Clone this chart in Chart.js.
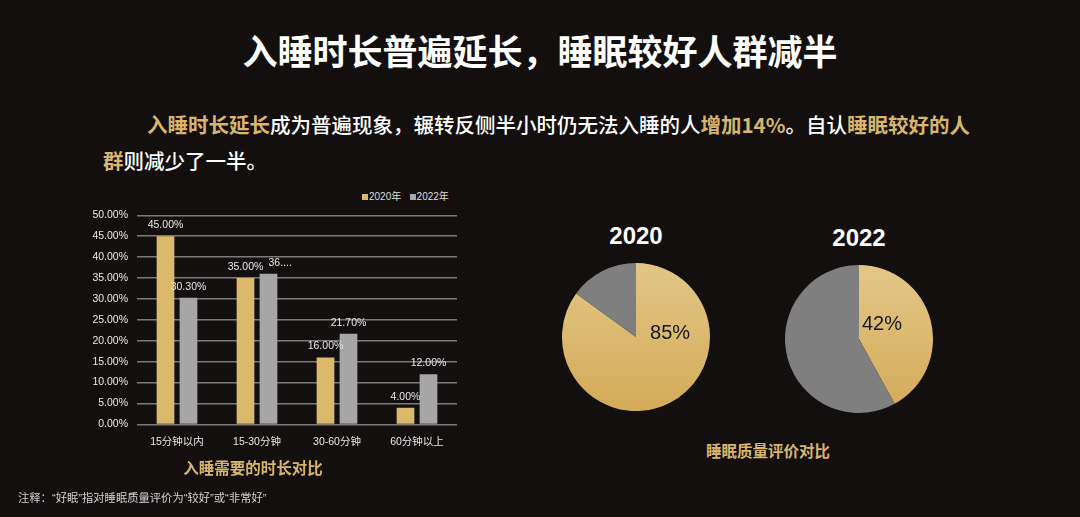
<!DOCTYPE html>
<html>
<head>
<meta charset="utf-8">
<script src="https://cdn.jsdelivr.net/npm/chart.js@4.4.1/dist/chart.umd.min.js"></script>
<style>
  html, body { margin: 0; padding: 0; }
  body {
    width: 1080px; height: 517px; overflow: hidden; position: relative;
    background: #120f0e;
    font-family: "Noto Sans CJK SC", "Liberation Sans", sans-serif;
    color: #fff;
  }
  .abs { position: absolute; }
  #titulo {
    left: 0; width: 1080px; top: 28px; text-align: center;
    font-size: 35px; font-weight: 700; line-height: 44px;
  }
  #texto {
    left: 103px; top: 106px; width: 900px;
    font-size: 20.5px; line-height: 36px; font-weight: 500;
  }
  #texto .gold { color: #d9b56b; font-weight: 700; }
  #texto .indent { display: inline-block; width: 44px; }
  #leyenda {
    left: 362px; top: 190px; font-size: 10px; line-height: 14px; color: #ddd;
    font-family: "Liberation Sans", "Noto Sans CJK SC", sans-serif;
  }
  #leyenda span.box { display: inline-block; width: 6px; height: 6px; margin-right: 1px; }
  .cap { color: #d9b56b; font-weight: 700; font-size: 15.5px; line-height: 20px; text-align: center; }
  .anio {
    font-family: "Liberation Sans", Arial, sans-serif; font-weight: 700; font-size: 24px;
    line-height: 28px; text-align: center; width: 120px;
  }
  #nota {
    left: 18px; top: 490px; font-size: 11.3px; line-height: 16px; color: #d0d0d0;
    font-family: "Liberation Sans", "Noto Sans CJK SC", sans-serif;
  }
</style>
</head>
<body>
<div id="titulo" class="abs">入睡时长普遍延长，睡眠较好人群减半</div>
<div id="texto" class="abs"><span class="indent"></span><span class="gold">入睡时长延长</span>成为普遍现象，辗转反侧半小时仍无法入睡的人<span class="gold">增加14%</span>。自认<span class="gold">睡眠较好的人</span><br><span class="gold">群</span>则减少了一半。</div>

<div id="leyenda" class="abs"></div>
<canvas id="barras" class="abs" style="left:0;top:200px;width:470px;height:261px" width="470" height="261"></canvas>
<div class="abs cap" style="left:153px;top:457px;width:200px">入睡需要的时长对比</div>

<div class="abs anio" style="left:576px;top:222px">2020</div>
<div class="abs anio" style="left:799px;top:224px">2022</div>
<canvas id="pie2020" class="abs" style="left:562px;top:263px;width:148px;height:148px" width="148" height="148"></canvas>
<canvas id="pie2022" class="abs" style="left:785px;top:265px;width:148px;height:148px" width="148" height="148"></canvas>
<div class="abs cap" style="left:668px;top:440px;width:200px">睡眠质量评价对比</div>

<div id="nota" class="abs">注释：“好眠”指对睡眠质量评价为“较好”或“非常好”</div>

<script>
// -------- DATOS --------
const categorias = ["15分钟以内", "15-30分钟", "30-60分钟", "60分钟以上"];
const series = ["2020年", "2022年"];
const valores2020 = [45, 35, 16, 4];
const valores2022 = [30.3, 36, 21.7, 12];
const etiquetas2020 = ["45.00%", "35.00%", "16.00%", "4.00%"];
const etiquetas2022 = ["30.30%", "36....", "21.70%", "12.00%"];
const ejeY = { min: 0, max: 50, paso: 5 };

const pieAnios = ["2020", "2022"];
const pie2020 = [85, 15];
const pie2022 = [42, 58];
const pieEtiquetas = ["85%", "42%"];

const ORO = "#dbb96b";
const GRIS = "#a6a6a6";
const GRIS_PIE = "#7f7f7f";
const FUENTE = '"Liberation Sans", "Noto Sans CJK SC", sans-serif';

// leyenda
document.getElementById("leyenda").innerHTML = series
  .map((s, i) => `<span class="box" style="background:${i ? GRIS : ORO}"></span>${s}`)
  .join('&nbsp;&nbsp;&nbsp;');

// -------- ETIQUETAS DE BARRAS --------
const etiquetasBarras = {
  id: "etiquetasBarras",
  afterDatasetsDraw(chart) {
    const ctx = chart.ctx;
    ctx.save();
    ctx.font = "10.5px " + FUENTE;
    ctx.fillStyle = "#e8e8e8";
    ctx.textBaseline = "middle";
    chart.data.datasets.forEach((ds, i) => {
      chart.getDatasetMeta(i).data.forEach((bar, j) => {
        const txt = ds.etiquetas[j];
        // la etiqueta recortada empieza en el centro de la barra
        ctx.textAlign = txt.endsWith("....") ? "left" : "center";
        ctx.fillText(txt, bar.x, bar.y - 11);
      });
    });
    ctx.restore();
  },
};

new Chart(document.getElementById("barras"), {
  type: "bar",
  data: {
    labels: categorias,
    datasets: [
      { label: series[0], data: valores2020, etiquetas: etiquetas2020, backgroundColor: ORO },
      { label: series[1], data: valores2022, etiquetas: etiquetas2022, backgroundColor: GRIS },
    ],
  },
  options: {
    responsive: false,
    animation: false,
    layout: { padding: { top: 4, right: 13, bottom: 2, left: 0 } },
    categoryPercentage: 0.575,
    barPercentage: 0.77,
    plugins: { legend: { display: false }, tooltip: { enabled: false } },
    scales: {
      x: {
        grid: { display: false, drawTicks: false },
        border: { display: false },
        ticks: { color: "#e8e8e8", font: { family: FUENTE, size: 10.5 }, padding: 11 },
      },
      y: {
        min: ejeY.min,
        max: ejeY.max,
        afterFit: (scale) => { scale.width = 137; },
        grid: { color: "#7a7a7a", lineWidth: 1.5, drawTicks: false },
        border: { display: false },
        ticks: {
          stepSize: ejeY.paso,
          padding: 9,
          color: "#e8e8e8",
          font: { family: FUENTE, size: 10.5 },
          callback: (v) => v.toFixed(2) + "%",
        },
      },
    },
  },
  plugins: [etiquetasBarras],
});

// -------- PASTELES --------
// primer sector en degradado dorado, el resto gris
function colorSector(context) {
  if (context.dataIndex !== 0) return GRIS_PIE;
  const area = context.chart.chartArea;
  if (!area) return ORO;
  const g = context.chart.ctx.createLinearGradient(0, area.top, 0, area.bottom);
  g.addColorStop(0, "#e3c687");
  g.addColorStop(1, "#d3ab58");
  return g;
}

// posicion del texto relativa al radio
const posEtiqueta = [[0.46, -0.05], [0.31, -0.19]];

function etiquetaPie(idx) {
  return {
    id: "etiquetaPie" + idx,
    afterDatasetsDraw(chart) {
      const arc = chart.getDatasetMeta(0).data[0];
      const ctx = chart.ctx;
      ctx.save();
      ctx.font = "20px " + FUENTE;
      ctx.fillStyle = "#161616";
      ctx.textAlign = "center";
      ctx.textBaseline = "middle";
      ctx.fillText(
        pieEtiquetas[idx],
        arc.x + arc.outerRadius * posEtiqueta[idx][0],
        arc.y + arc.outerRadius * posEtiqueta[idx][1]
      );
      ctx.restore();
    },
  };
}

[pie2020, pie2022].forEach((datos, i) => {
  new Chart(document.getElementById("pie" + pieAnios[i]), {
    type: "pie",
    data: {
      labels: ["较好", "其他"],
      datasets: [{ data: datos, backgroundColor: colorSector, borderWidth: 0 }],
    },
    options: {
      responsive: false,
      animation: false,
      plugins: { legend: { display: false }, tooltip: { enabled: false } },
    },
    plugins: [etiquetaPie(i)],
  });
});
</script>
</body>
</html>
